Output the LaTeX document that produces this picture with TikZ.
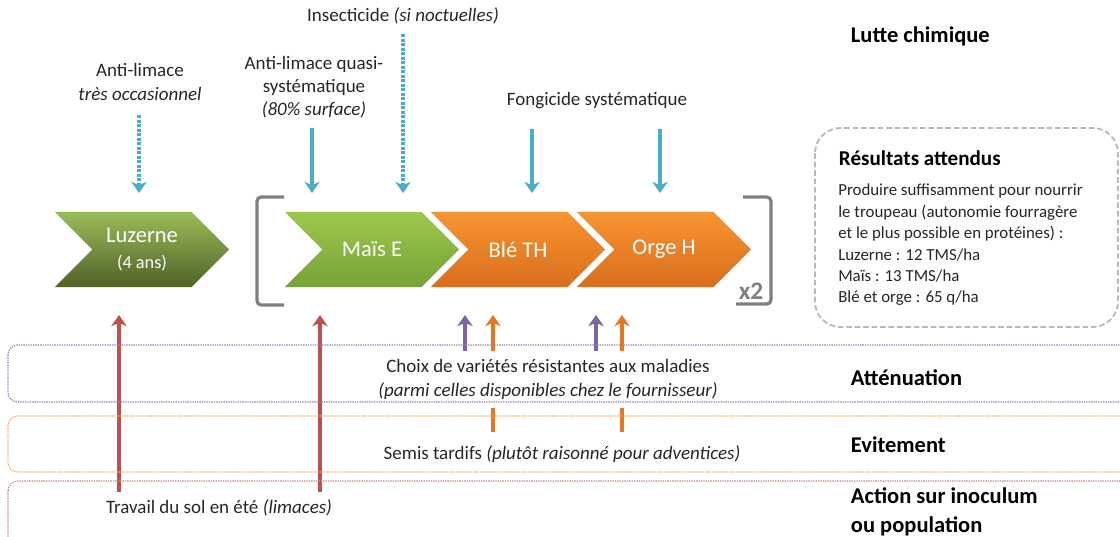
\documentclass[tikz,border=0pt]{standalone}
\usepackage{fontspec}
\setmainfont{Carlito}
\usetikzlibrary{arrows.meta}

\definecolor{bleuc}{RGB}{75,172,198}
\definecolor{rougec}{RGB}{192,80,77}
\definecolor{mauvec}{RGB}{128,100,162}
\definecolor{orangec}{RGB}{232,118,30}
\definecolor{grisc}{RGB}{127,127,127}
\definecolor{vertf1}{RGB}{155,187,89}
\definecolor{vertf2}{RGB}{79,98,40}
\definecolor{vertc1}{RGB}{158,199,76}
\definecolor{vertc2}{RGB}{118,163,56}
\definecolor{oran1}{RGB}{248,148,48}
\definecolor{oran2}{RGB}{217,110,30}
\definecolor{bandmauve}{RGB}{150,130,185}
\definecolor{bandorange}{RGB}{245,170,110}
\definecolor{bandrouge}{RGB}{210,130,128}

\begin{document}
\begin{tikzpicture}[x=0.025cm, y=-0.025cm,
	lab/.style={align=center, text=black!85, font=\fontsize{13.5}{16.5}\selectfont, inner sep=2pt},
	titre/.style={anchor=west, align=left, text=black, font=\fontsize{16}{20.5}\selectfont\bfseries},
	chev/.style 2 args={minimum width=4.35cm, minimum height=1.875cm, inner sep=0pt, text=white,
		font=\fontsize{16}{19}\selectfont, align=center,
		path picture={\shade[top color=#1, bottom color=#2] (path picture bounding box.north west)
			-- ([xshift=-0.9375cm]path picture bounding box.north east) -- (path picture bounding box.east)
			-- ([xshift=-0.9375cm]path picture bounding box.south east) -- (path picture bounding box.south west)
			-- ([xshift=0.9375cm]path picture bounding box.west) -- cycle;}},
	fl/.style={line width=2.3pt, shorten <=5pt, -{Stealth[length=8pt, width=11pt, inset=2.5pt]}},
	pointille/.style={dash pattern=on 2pt off 1.2pt},
	crochet/.style={grisc, line width=2.3pt, rounded corners=3pt},
	bande/.style={rounded corners=7pt, line width=0.8pt, dash pattern=on 1pt off 0.7pt}]
	\useasboundingbox (0,0) rectangle (1120,537);

	\node[chev={vertf1}{vertf2}] (luz) at (142,249.5) {Luzerne\\[-1pt]{\fontsize{13}{15}\selectfont(4 ans)}};
	\node[chev={vertc1}{vertc2}] (mais) at (372,249.5) {Maïs E};
	\node[chev={oran1}{oran2}] (ble) at (518,249.5) {Blé TH};
	\node[chev={oran1}{oran2}] (orge) at (664,249.5) {Orge H};
	\draw[crochet] (284,197) -- (257,197) -- (257,305) -- (284,305);
	\draw[crochet] (743,197) -- (771,197) -- (771,304) -- (736,304);
	\node[font=\fontsize{18}{18}\selectfont\bfseries, text=grisc, inner sep=0pt] (rep) at (751,291) {x2};

	\node[lab] (antilim) at (140,82) {Anti-limace\\\textit{très occasionnel}};
	\node[lab] (antiquasi) at (314,87) {Anti-limace quasi-\\systématique\\\textit{(80\% surface)}};
	\node[lab] (insect) at (403,16) {Insecticide \textit{(si noctuelles)}};
	\node[lab] (fongi) at (597,101) {Fongicide systématique};
	\node[titre] (lutte) at (846,36) {Lutte chimique};

	\coordinate (h1) at (139,193);
	\coordinate (h2) at (312,193);
	\coordinate (h3) at (403,193);
	\coordinate (h4) at (532,193);
	\coordinate (h5) at (660,193);
	\draw[fl, pointille, bleuc, shorten <=8.5pt] (antilim.south -| h1) -- (h1);
	\draw[fl, bleuc] (antiquasi.south -| h2) -- (h2);
	\draw[fl, pointille, bleuc] (insect.south -| h3) -- (h3);
	\foreach \h in {h4,h5}
		\draw[fl, bleuc, shorten <=12pt] (fongi.south -| \h) -- (\h);

	\draw[gray!55, line width=1.3pt, dash pattern=on 4pt off 2pt, rounded corners=18pt] (815,128) rectangle (1118,327);
	\node[anchor=west, text=black, font=\fontsize{15}{18}\selectfont\bfseries] (res) at (834,158) {Résultats attendus};
	\node[anchor=north west, align=left, inner sep=0pt, text=black!85, font=\fontsize{12}{15.2}\selectfont] (obj) at (838,184)
		{Produire suffisamment pour nourrir\\le troupeau (autonomie fourragère\\et le plus possible en protéines) :\\Luzerne : 12 TMS/ha\\Maïs : 13 TMS/ha\\Blé et orge : 65 q/ha};

	\coordinate (b1) at (119,315);
	\coordinate (b2) at (320,315);
	\coordinate (b3) at (465,315);
	\coordinate (b4) at (493,315);
	\coordinate (b5) at (596,315);
	\coordinate (b6) at (622,315);
	\node[lab, minimum height=1.1cm] (semis) at (562,454) {Semis tardifs \textit{(plutôt raisonné pour adventices)}};
	\node[lab, minimum height=0.8cm] (travail) at (219,508) {Travail du sol en été \textit{(limaces)}};
	\foreach \b in {b4,b6}
		\draw[fl, orangec, shorten <=0pt] (semis.north -| \b) -- (\b);
	\node[lab, fill=white, minimum height=1.425cm] (choix) at (548,379.5)
		{Choix de variétés résistantes aux maladies\\\textit{(parmi celles disponibles chez le fournisseur)}};
	\foreach \b in {b3,b5}
		\draw[fl, mauvec, shorten <=0pt] (choix.north -| \b) -- (\b);
	\foreach \b in {b1,b2}
		\draw[fl, rougec, shorten <=0pt] (travail.north -| \b) -- (\b);

	\draw[bande, bandmauve] (8,345) rectangle (1135,402);
	\draw[bande, bandorange] (8,416) rectangle (1135,472);
	\draw[bande, bandrouge] (8,481) rectangle (1135,560);
	\node[titre] (att) at (846,378) {Atténuation};
	\node[titre] (evit) at (846,445) {Evitement};
	\node[titre] (action) at (846,512) {Action sur inoculum\\ou population};
\end{tikzpicture}
\end{document}
